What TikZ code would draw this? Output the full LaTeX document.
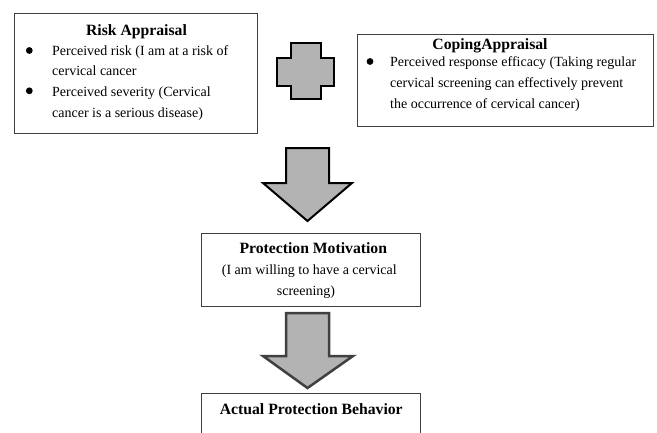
\documentclass[tikz,border=0pt]{standalone}
\usepackage{fontspec}
\setmainfont{Liberation Serif}
\definecolor{arrowgray}{RGB}{179,179,179}
\definecolor{framegray}{RGB}{64,64,64}
\tikzset{
  box/.style={draw=framegray, line width=0.8pt, fill=white, inner sep=0pt},
  title/.style={inner sep=0pt, font=\fontsize{15.7}{18}\selectfont\bfseries},
  body/.style={inner sep=0pt, font=\fontsize{14}{20.7}\selectfont},
  blockarrow/.style={fill=arrowgray, line width=2pt, line join=miter}
}
\begin{document}
\begin{tikzpicture}[x=1pt,y=-1pt]
  \clip (0,0) rectangle (657,432);

  % risk appraisal
  \node[box, anchor=north west, minimum width=243pt, minimum height=120pt] (risk) at (14,13) {};
  \node[title, anchor=base] (risktitle) at (136.5,35.7) {Risk Appraisal};
  \fill (29.3,50.5) circle (3.4pt);
  \node[body, anchor=base west] (risk1) at (52,55) {Perceived risk (I am at a risk of};
  \node[body, anchor=base west] (risk2) at (52,75.8) {cervical cancer};
  \fill (29.3,90.8) circle (3.4pt);
  \node[body, anchor=base west] (risk3) at (52,96.5) {Perceived severity (Cervical};
  \node[body, anchor=base west] (risk4) at (52,117.2) {cancer is a serious disease)};

  % plus sign
  \draw[blockarrow, draw=black] (291,43) -- (321,43) -- (321,58) -- (334,58) -- (334,86) --
    (321,86) -- (321,99) -- (291,99) -- (291,86) -- (277,86) -- (277,58) -- (291,58) -- cycle;

  % coping appraisal
  \node[box, anchor=north west, minimum width=296pt, minimum height=92pt] (coping) at (357,34) {};
  \node[title, anchor=base] (copingtitle) at (490,49.3) {CopingAppraisal};
  \fill (370,61.5) circle (3.4pt);
  \node[body, anchor=base west] (coping1) at (390,66.7) {Perceived response efficacy (Taking regular};
  \node[body, anchor=base west] (coping2) at (390,87.5) {cervical screening can effectively prevent};
  \node[body, anchor=base west] (coping3) at (390,108.3) {the occurrence of cervical cancer)};

  % first arrow
  \draw[blockarrow, draw=black] (286,148) -- (329,148) -- (329,183) -- (352,183) --
    (307.5,221) -- (263,183) -- (286,183) -- cycle;

  % protection motivation
  \node[box, anchor=north west, minimum width=219pt, minimum height=73pt] (motiv) at (201,233) {};
  \node[title, anchor=base] (motivtitle) at (313.3,253.3) {Protection Motivation};
  \node[body, anchor=base] (motiv1) at (309.3,274.3) {(I am willing to have a cervical};
  \node[body, anchor=base] (motiv2) at (306,295) {screening)};

  % second arrow
  \draw[blockarrow, draw=framegray, line width=2.5pt] (286,313) -- (329,313) -- (329,356) -- (353,356) --
    (307.5,388) -- (263,356) -- (286,356) -- cycle;

  % actual protection behavior
  \node[box, anchor=north west, minimum width=219pt, minimum height=60pt] (behav) at (201,393) {};
  \node[title, anchor=base] (behavtitle) at (311.3,414) {Actual Protection Behavior};
\end{tikzpicture}
\end{document}
